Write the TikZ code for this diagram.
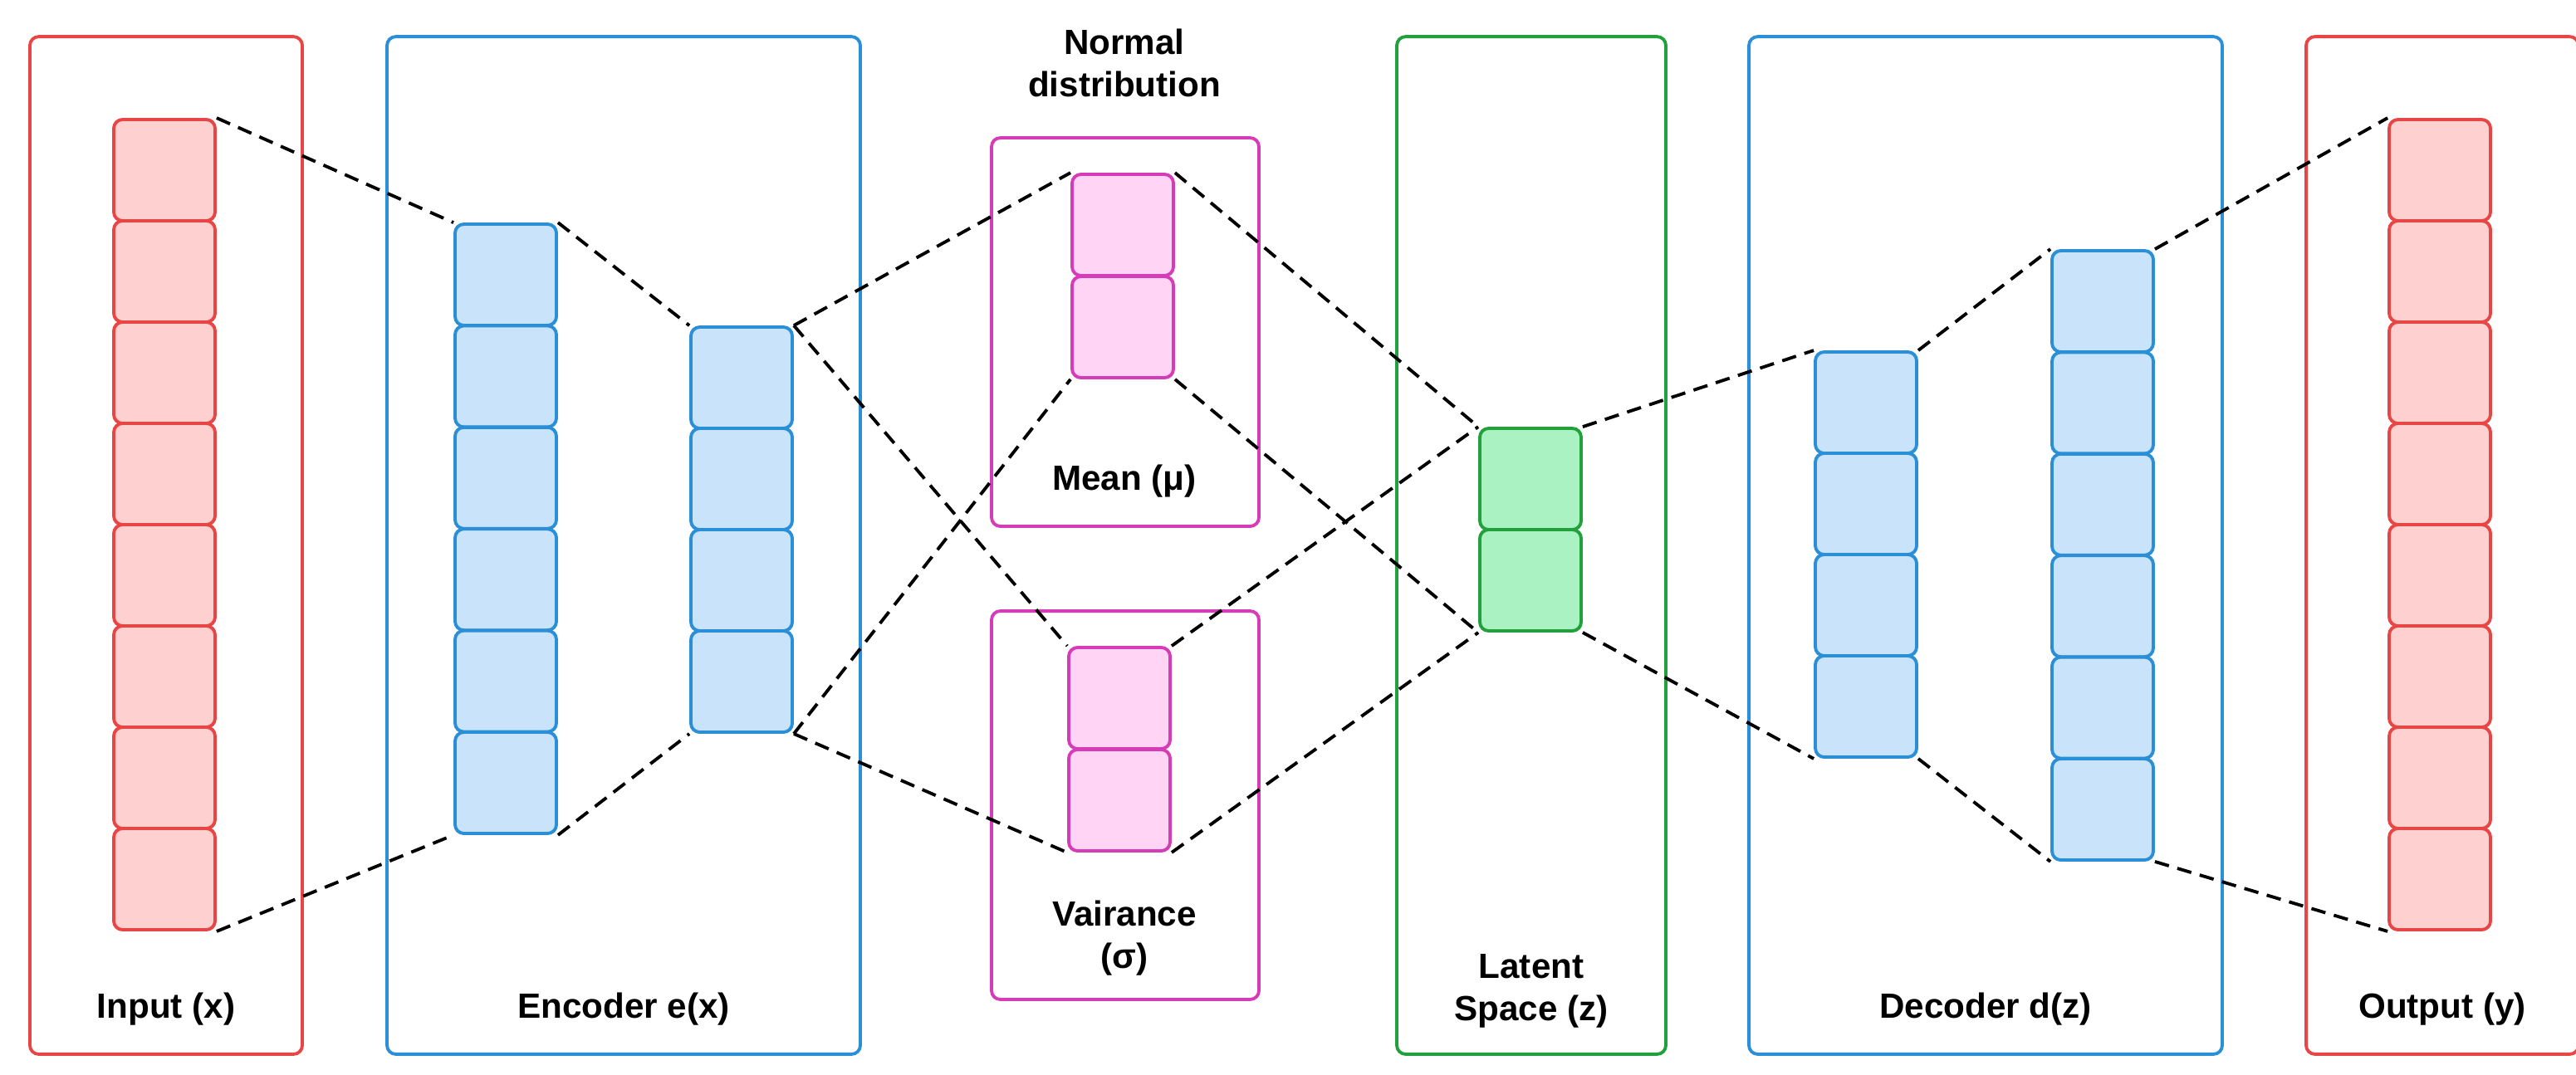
\documentclass[tikz,border=0pt]{standalone}
\usepackage{fontspec}
\setmainfont{Liberation Sans}
\usetikzlibrary{positioning}
\definecolor{redline}{HTML}{E84545}
\definecolor{redfill}{HTML}{FFD0D0}
\definecolor{blueline}{HTML}{2A8FD6}
\definecolor{bluefill}{HTML}{C8E3FA}
\definecolor{pinkline}{HTML}{D63CB8}
\definecolor{pinkfill}{HTML}{FFD4F4}
\definecolor{greenline}{HTML}{22A03C}
\definecolor{greenfill}{HTML}{AAF2C2}

\begin{document}
\begin{tikzpicture}[x=0.02cm, y=-0.02cm,
    box/.style={draw=#1, line width=1.1pt, rounded corners=3pt, inner sep=0pt},
    cell/.style={draw=#1line, fill=#1fill, line width=1.1pt, rounded corners=3pt,
      minimum width=1.22cm, minimum height=1.22cm, inner sep=0pt},
    lbl/.style={font=\fontsize{12}{14.5}\selectfont\bfseries, align=center},
    link/.style={line width=1.1pt, dash pattern=on 5pt off 3pt},
]
\useasboundingbox (0,0) rectangle (1551,647);

% Outer boxes
\node[box=redline, minimum width=3.28cm, minimum height=12.26cm] (inbox) at (100,328.5) {};
\node[box=blueline, minimum width=5.7cm, minimum height=12.26cm] (encbox) at (375.5,328.5) {};
\node[box=pinkline, minimum width=3.22cm, minimum height=4.68cm] (meanbox) at (677.5,200) {};
\node[box=pinkline, minimum width=3.22cm, minimum height=4.68cm] (varbox) at (677.5,485) {};
\node[box=greenline, minimum width=3.24cm, minimum height=12.26cm] (latbox) at (922,328.5) {};
\node[box=blueline, minimum width=5.7cm, minimum height=12.26cm] (decbox) at (1195.5,328.5) {};
\node[box=redline, minimum width=3.28cm, minimum height=12.26cm] (outbox) at (1470.5,328.5) {};

% Cells
\foreach \i in {1,...,8} {
    \node[cell=red] (in\i) at (99, {72+30.5+(\i-1)*61}) {};
    \node[cell=red] (out\i) at (1469, {72+30.5+(\i-1)*61}) {};
}
\foreach \i in {1,...,6} {
    \node[cell=blue] (ea\i) at (304.5, {135+30.5+(\i-1)*61.2}) {};
    \node[cell=blue] (db\i) at (1266, {151+30.5+(\i-1)*61.2}) {};
}
\foreach \i in {1,...,4} {
    \node[cell=blue] (eb\i) at (446.5, {197+30.5+(\i-1)*61}) {};
    \node[cell=blue] (da\i) at (1123.5, {212+30.5+(\i-1)*61}) {};
}
\foreach \i in {1,2} {
    \node[cell=pink] (mu\i) at (676, {105+30.5+(\i-1)*61.5}) {};
    \node[cell=pink] (sg\i) at (674, {390+30.5+(\i-1)*61.5}) {};
    \node[cell=green] (z\i) at (921.5, {258+30.5+(\i-1)*61}) {};
}

% Dashed links
\draw[link] (in1.north east) -- (ea1.north west);
\draw[link] (in8.south east) -- (ea6.south west);
\draw[link] (ea1.north east) -- (eb1.north west);
\draw[link] (ea6.south east) -- (eb4.south west);
\draw[link] (eb1.north east) -- (mu1.north west);
\draw[link] (eb1.north east) -- (sg1.north west);
\draw[link] (eb4.south east) -- (mu2.south west);
\draw[link] (eb4.south east) -- (sg2.south west);
\draw[link] (mu1.north east) -- (z1.north west);
\draw[link] (mu2.south east) -- (z2.south west);
\draw[link] (sg1.north east) -- (z1.north west);
\draw[link] (sg2.south east) -- (z2.south west);
\draw[link] (z1.north east) -- (da1.north west);
\draw[link] (z2.south east) -- (da4.south west);
\draw[link] (da1.north east) -- (db1.north west);
\draw[link] (da4.south east) -- (db6.south west);
\draw[link] (db1.north east) -- (out1.north west);
\draw[link] (db6.south east) -- (out8.south west);

% Labels
\node[lbl] (normlbl) at (677,38) {Normal\\distribution};
\node[lbl] (inlbl) at (100,608) {Input (x)};
\node[lbl] (enclbl) at (375.5,608) {Encoder e(x)};
\node[lbl] (meanlbl) at (677,290) {Mean (μ)};
\node[lbl] (varlbl) at (677,565) {Vairance\\(σ)};
\node[lbl] (latlbl) at (922,597) {Latent\\Space (z)};
\node[lbl] (declbl) at (1195.5,608) {Decoder d(z)};
\node[lbl] (outlbl) at (1470.5,608) {Output (y)};
\end{tikzpicture}
\end{document}
